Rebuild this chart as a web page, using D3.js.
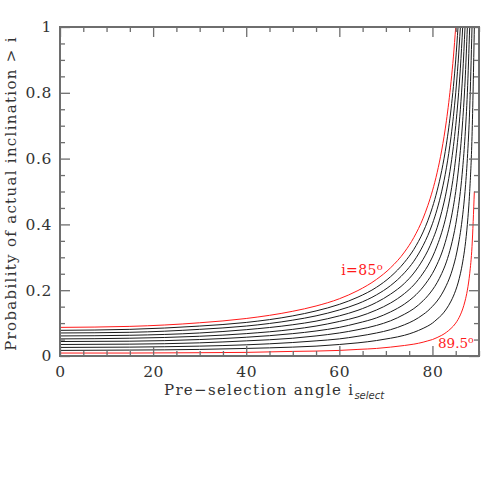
<!DOCTYPE html>
<html>
<head>
<meta charset="utf-8">
<script src="https://cdn.jsdelivr.net/npm/d3@7"></script>
<style>
    body { margin: 0; background: #fff; }
    svg text { font-family: "DejaVu Serif", "Liberation Serif", serif; }
</style>
</head>
<body>
<div id="chart"></div>
<script>
'use strict';

// pre-selection angle samples (deg)
var angles = [0, 15, 30, 40, 50, 55, 60, 64, 68, 71, 74, 76, 78, 79, 80, 81, 82, 83, 84, 84.5, 85, 85.5, 86, 86.5, 87, 87.5, 88, 88.5, 89];

// probability curves, one per inclination
var p850 = [0.087, 0.090, 0.101, 0.114, 0.136, 0.152, 0.174, 0.199, 0.233, 0.268, 0.316, 0.360, 0.419, 0.457, 0.502, 0.557, 0.626, 0.715, 0.834, 0.909, 1.000];
var p855 = [0.078, 0.081, 0.091, 0.102, 0.122, 0.137, 0.157, 0.179, 0.209, 0.241, 0.285, 0.324, 0.377, 0.411, 0.452, 0.502, 0.564, 0.644, 0.751, 0.819, 0.900, 1.000];
var p860 = [0.070, 0.072, 0.081, 0.091, 0.109, 0.122, 0.140, 0.159, 0.186, 0.214, 0.253, 0.288, 0.336, 0.366, 0.402, 0.446, 0.501, 0.572, 0.667, 0.728, 0.800, 0.889, 1.000];
var p865 = [0.061, 0.063, 0.070, 0.080, 0.095, 0.106, 0.122, 0.139, 0.163, 0.188, 0.221, 0.252, 0.294, 0.320, 0.352, 0.390, 0.439, 0.501, 0.584, 0.637, 0.700, 0.778, 0.875, 1.000];
var p870 = [0.052, 0.054, 0.060, 0.068, 0.081, 0.091, 0.105, 0.119, 0.140, 0.161, 0.190, 0.216, 0.252, 0.274, 0.301, 0.335, 0.376, 0.429, 0.501, 0.546, 0.601, 0.667, 0.750, 0.857, 1.000];
var p875 = [0.044, 0.045, 0.050, 0.057, 0.068, 0.076, 0.087, 0.100, 0.116, 0.134, 0.158, 0.180, 0.210, 0.229, 0.251, 0.279, 0.313, 0.358, 0.417, 0.455, 0.500, 0.556, 0.625, 0.715, 0.833, 1.000];
var p880 = [0.035, 0.036, 0.040, 0.046, 0.054, 0.061, 0.070, 0.080, 0.093, 0.107, 0.127, 0.144, 0.168, 0.183, 0.201, 0.223, 0.251, 0.286, 0.334, 0.364, 0.400, 0.445, 0.500, 0.572, 0.667, 0.800, 1.000];
var p885 = [0.026, 0.027, 0.030, 0.034, 0.041, 0.046, 0.052, 0.060, 0.070, 0.080, 0.095, 0.108, 0.126, 0.137, 0.151, 0.167, 0.188, 0.215, 0.250, 0.273, 0.300, 0.334, 0.375, 0.429, 0.500, 0.600, 0.750, 1.000];
var p890 = [0.017, 0.018, 0.020, 0.023, 0.027, 0.030, 0.035, 0.040, 0.047, 0.054, 0.063, 0.072, 0.084, 0.091, 0.100, 0.112, 0.125, 0.143, 0.167, 0.182, 0.200, 0.222, 0.250, 0.286, 0.333, 0.400, 0.500, 0.667, 1.000];
var p895 = [0.009, 0.009, 0.010, 0.011, 0.014, 0.015, 0.017, 0.020, 0.023, 0.027, 0.032, 0.036, 0.042, 0.046, 0.050, 0.056, 0.063, 0.072, 0.084, 0.091, 0.100, 0.111, 0.125, 0.143, 0.167, 0.200, 0.250, 0.333, 0.500];

var curves = [p850, p855, p860, p865, p870, p875, p880, p885, p890, p895];
var xMajor = [0, 20, 40, 60, 80];
var yMajor = [0, 0.2, 0.4, 0.6, 0.8, 1];

var width = 491,
    height = 491,
    margin = { top: 27, left: 60, right: 12, bottom: 135 },
    plotW = width - margin.left - margin.right,
    plotH = height - margin.top - margin.bottom,
    axisColor = '#6e6e6e',
    labelColor = '#333';

var svg = d3.select('#chart').append('svg')
    .attr('width', width)
    .attr('height', height);

var g = svg.append('g')
    .attr('transform', 'translate(' + margin.left + ',' + margin.top + ')');

var x = d3.scaleLinear().domain([0, 90]).range([0, plotW]);
var y = d3.scaleLinear().domain([0, 1]).range([plotH, 0]);

var xMinor = d3.range(0, 91, 5).filter(d => d % 20 !== 0);
var yMinor = d3.range(0, 1.001, 0.05).filter(d => Math.round(d * 100) % 20 !== 0);

g.append('clipPath').attr('id', 'plotclip')
    .append('rect').attr('width', plotW).attr('height', plotH);

//curves
var line = d3.line()
    .x((d, i) => x(angles[i]))
    .y(d => y(d))
    .curve(d3.curveMonotoneX);

g.append('g').attr('clip-path', 'url(#plotclip)')
    .selectAll('path')
    .data(curves)
    .enter().append('path')
    .attr('d', d => line(d))
    .attr('fill', 'none')
    .attr('stroke', (d, i) => (i === 0 || i === curves.length - 1) ? '#ff1a1a' : '#1a1a1a')
    .attr('stroke-width', 1);

//axes: major + minor ticks pointing inward on all four sides
function styleAxis(sel) {
    sel.select('.domain').remove();
    sel.selectAll('.tick line').attr('stroke', axisColor).attr('stroke-width', 1.3);
    sel.selectAll('.tick text').attr('fill', labelColor).attr('font-size', '15.5px')
        .attr('letter-spacing', '0.6px')
        .attr('font-family', '"DejaVu Serif", serif');
}

g.append('g').attr('transform', 'translate(0,' + plotH + ')')
    .call(d3.axisBottom(x).tickValues(xMajor).tickSize(-10).tickPadding(10).tickFormat(d3.format('d')))
    .call(styleAxis);
g.append('g').attr('transform', 'translate(0,' + plotH + ')')
    .call(d3.axisBottom(x).tickValues(xMinor).tickSize(-5).tickFormat(''))
    .call(styleAxis);
g.append('g')
    .call(d3.axisTop(x).tickValues(xMajor).tickSize(-10).tickFormat(''))
    .call(styleAxis);
g.append('g')
    .call(d3.axisTop(x).tickValues(xMinor).tickSize(-5).tickFormat(''))
    .call(styleAxis);

g.append('g')
    .call(d3.axisLeft(y).tickValues(yMajor).tickSize(-10).tickPadding(8).tickFormat(d => d === 0 || d === 1 ? d3.format('d')(d) : d3.format('.1f')(d)))
    .call(styleAxis);
g.append('g')
    .call(d3.axisLeft(y).tickValues(yMinor).tickSize(-5).tickFormat(''))
    .call(styleAxis);
g.append('g').attr('transform', 'translate(' + plotW + ',0)')
    .call(d3.axisRight(y).tickValues(yMajor).tickSize(-10).tickFormat(''))
    .call(styleAxis);
g.append('g').attr('transform', 'translate(' + plotW + ',0)')
    .call(d3.axisRight(y).tickValues(yMinor).tickSize(-5).tickFormat(''))
    .call(styleAxis);

g.append('rect')
    .attr('width', plotW).attr('height', plotH)
    .attr('fill', 'none')
    .attr('stroke', axisColor)
    .attr('stroke-width', 2);

//curve labels
var lab85 = g.append('text')
    .attr('x', x(60.4)).attr('y', y(0.245))
    .attr('fill', '#ff1a1a').attr('font-size', '14px').attr('letter-spacing', '0.4px');
lab85.append('tspan').text('i=85');
lab85.append('tspan').attr('dy', -5).attr('font-size', '10px').text('o');

var lab895 = g.append('text')
    .attr('x', x(81.2)).attr('y', y(0.025))
    .attr('fill', '#ff1a1a').attr('font-size', '13.5px');
lab895.append('tspan').text('89.5');
lab895.append('tspan').attr('dy', -5).attr('font-size', '9.5px').text('o');

//axis titles
var xTitle = svg.append('text')
    .attr('x', 164).attr('y', 395)
    .attr('fill', labelColor).attr('font-size', '15px');
xTitle.append('tspan').attr('letter-spacing', '1.3px').text('Pre\u2212selection angle i');
xTitle.append('tspan').attr('dy', 4).attr('font-size', '10px')
    .attr('font-style', 'italic').attr('font-family', '"DejaVu Sans", sans-serif').text('select');

svg.append('text')
    .attr('transform', 'translate(16,' + (margin.top + plotH / 2 + 2) + ') rotate(-90)')
    .attr('text-anchor', 'middle')
    .attr('fill', labelColor).attr('font-size', '15px')
    .attr('letter-spacing', '1.3px')
    .text('Probability of actual inclination > i');
</script>
</body>
</html>
